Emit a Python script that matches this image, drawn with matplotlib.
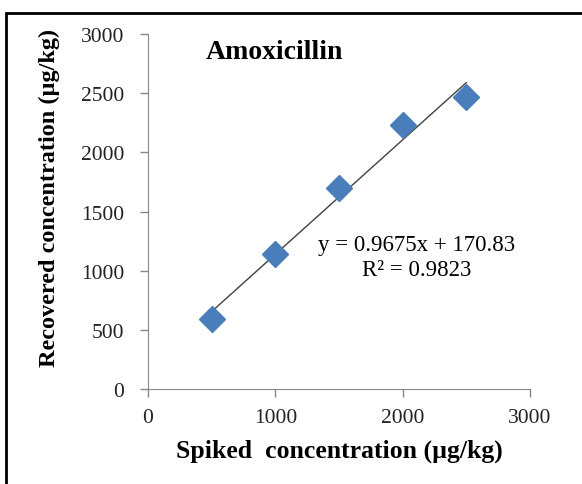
import numpy as np
import matplotlib.pyplot as plt
from matplotlib.patches import Rectangle

spiked = [500, 1000, 1500, 2000, 2500]
recovered = [590, 1140, 1700, 2230, 2465]
xticks = [0, 1000, 2000, 3000]
yticks = [0, 500, 1000, 1500, 2000, 2500, 3000]

plt.rcParams['font.family'] = ['Liberation Serif', 'DejaVu Serif']

fig = plt.figure(figsize=(5.82, 4.85), dpi=100)
ax = fig.add_axes([148/582, 1-390/485, 382/582, 355/485])

# outer frame, only left and top edges are inside the picture
fig.patches.append(Rectangle((6/582, -0.1), 1.2, (1-14/485)+0.1, transform=fig.transFigure,
                             fill=False, edgecolor='black', linewidth=2))

fx = np.array([spiked[0], spiked[-1]])
ax.plot(fx, 0.9675*fx + 170.83, color='#404040', linewidth=1)
ax.plot(spiked, recovered, linestyle='none', marker='D', markersize=13,
        color='#4a7ebb', markeredgecolor='#4a7ebb')

ax.set_xlim(0, 3000)
ax.set_ylim(0, 3000)
ax.set_xticks(xticks)
ax.set_yticks(yticks)
ax.tick_params(labelsize=15.5, color='#888888', length=6, width=1, labelcolor='#222222')
ax.tick_params(axis='x', pad=8)
ax.tick_params(axis='y', pad=11)
for s in ['top', 'right']:
    ax.spines[s].set_visible(False)
for s in ['left', 'bottom']:
    ax.spines[s].set_color('#888888')

ax.set_xlabel('Spiked  concentration (µg/kg)', fontsize=18.5, fontweight='bold')
ax.xaxis.set_label_coords(0.5, -0.14)
ax.set_ylabel('Recovered concentration (µg/kg)', fontsize=17.5, fontweight='bold')
ax.yaxis.set_label_coords(-0.23, 0.54)
ax.text(0.332, 0.952, 'Amoxicillin', transform=ax.transAxes, fontsize=20,
        fontweight='bold', ha='center', va='center')
ax.text(2113, 1225, 'y = 0.9675x + 170.83', fontsize=16.5, ha='center', va='center')
ax.text(2113, 1014, 'R² = 0.9823', fontsize=16.5, ha='center', va='center')

fig.savefig('out.png', dpi=100)
